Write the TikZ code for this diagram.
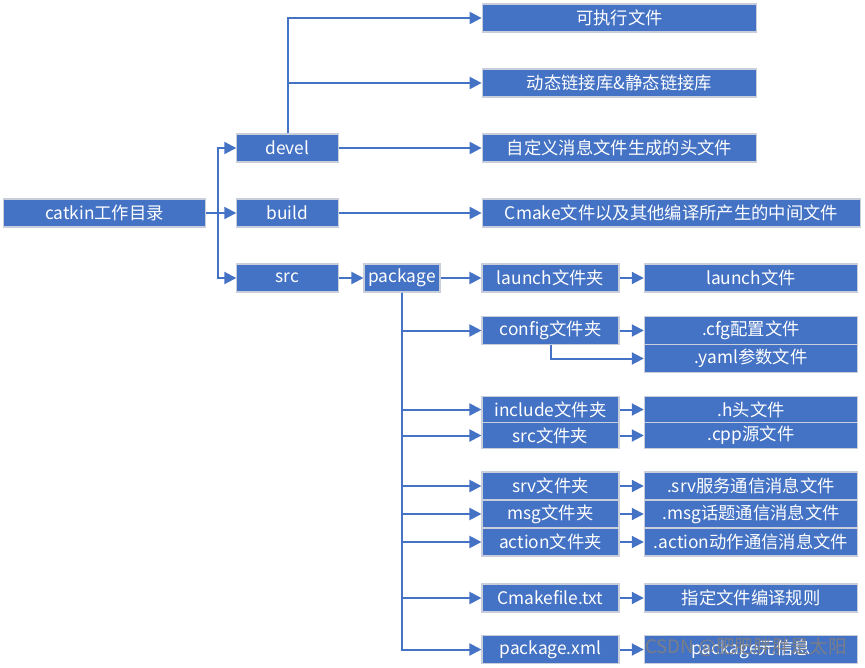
\documentclass[tikz,border=0pt]{standalone}
\usepackage{fontspec}
\setmainfont{Noto Sans CJK SC}
\usetikzlibrary{arrows.meta}
\definecolor{boxblue}{RGB}{68,114,196}
\definecolor{boxedge}{RGB}{200,206,218}

\begin{document}
\begin{tikzpicture}[x=0.75pt,y=-0.75pt,
  box/.style={draw=boxedge,line width=0.8pt,fill=boxblue,text=white,
    inner sep=0pt,minimum height=21pt,font=\fontsize{13}{15}\selectfont},
  lbox/.style={box,minimum width=102.75pt},
  rbox/.style={box,minimum width=160pt},
  arr/.style={draw=boxblue,line width=1.5pt,-{Triangle[length=9pt,width=9pt]}}]
\useasboundingbox (0,0) rectangle (865,668);

% first level
\node[box,minimum width=152pt] (catkin) at (104.5,213) {catkin工作目录};
\node[box,minimum width=76pt] (devel) at (287.5,148) {devel};
\node[box,minimum width=76pt] (build) at (287.5,213) {build};
\node[box,minimum width=76pt] (src) at (287.5,278) {src};
\node[box,minimum width=57pt] (pkg) at (402,278) {package};

% devel and build contents
\node[box,minimum width=206pt] (exe) at (619.5,18) {可执行文件};
\node[box,minimum width=206pt] (lib) at (619.5,83) {动态链接库\&静态链接库};
\node[box,minimum width=206pt] (hdr) at (619.5,148) {自定义消息文件生成的头文件};
\node[box,minimum width=284pt] (cmk) at (671.5,213) {Cmake文件以及其他编译所产生的中间文件};

% package contents
\node[lbox] (launchdir) at (550.5,278) {launch文件夹};
\node[rbox] (launchf) at (751,278) {launch文件};
\node[lbox] (configdir) at (550.5,330.5) {config文件夹};
\node[rbox] (cfg) at (751,330.5) {.cfg配置文件};
\node[rbox] (yaml) at (751,358.5) {.yaml参数文件};
\node[lbox,minimum height=20pt] (incdir) at (550.5,409.5) {include文件夹};
\node[lbox,minimum height=20pt] (srcdir) at (550.5,435.5) {src文件夹};
\node[rbox,minimum height=20pt] (hfile) at (751,409.5) {.h头文件};
\node[rbox,minimum height=20pt] (cppfile) at (751,435.5) {.cpp源文件};
\node[lbox] (srvdir) at (550.5,486) {srv文件夹};
\node[lbox] (msgdir) at (550.5,514) {msg文件夹};
\node[lbox] (actdir) at (550.5,542) {action文件夹};
\node[rbox] (srvf) at (751,486) {.srv服务通信消息文件};
\node[rbox] (msgf) at (751,514) {.msg话题通信消息文件};
\node[rbox] (actf) at (751,542) {.action动作通信消息文件};
\node[lbox] (cmakelist) at (550.5,598) {Cmakefile.txt};
\node[rbox] (rule) at (751,598) {指定文件编译规则};
\node[lbox,minimum height=20.5pt] (pkgxml) at (550.5,649.5) {package.xml};
\node[rbox,minimum height=20.5pt] (pkgdesc) at (751,649.5) {package元信息};

% connectors
\coordinate (fork) at (218,213);
\draw[arr] (catkin) -- (build);
\draw[arr] (fork) |- (devel);
\draw[arr] (fork) |- (src);
\draw[arr] (devel.north) |- (exe);
\draw[arr] (devel.north) |- (lib);
\draw[arr] (devel) -- (hdr);
\draw[arr] (build) -- (cmk);
\draw[arr] (src) -- (pkg);
\draw[arr] (pkg) -- (launchdir);
\foreach \d in {configdir,incdir,srcdir,srvdir,msgdir,actdir,cmakelist,pkgxml}
  \draw[arr] (pkg.south) |- (\d);
\draw[arr] (configdir.south) |- (yaml);
\foreach \a/\b in {launchdir/launchf,configdir/cfg,incdir/hfile,srcdir/cppfile,
    srvdir/srvf,msgdir/msgf,actdir/actf,cmakelist/rule,pkgxml/pkgdesc}
  \draw[arr] (\a) -- (\b);

% watermark
\node[text=gray,opacity=0.9,inner sep=0pt,font=\fontsize{14}{16}\selectfont]
  (mark) at (746,647) {CSDN @肥肥胖胖是太阳};
\end{tikzpicture}
\end{document}
